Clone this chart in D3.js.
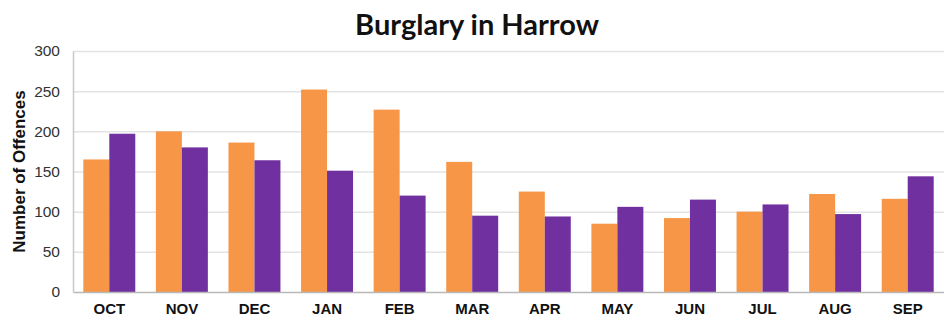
<!doctype html>
<html>
<head>
  <script src="https://cdnjs.cloudflare.com/ajax/libs/d3/7.8.5/d3.min.js"></script>
  <style>
    body { margin: 0; background: #fff; }
    svg { display: block; }
  </style>
</head>
<body>
  <svg width="944" height="317"></svg>
  <script>
    var months = ["OCT", "NOV", "DEC", "JAN", "FEB", "MAR", "APR", "MAY", "JUN", "JUL", "AUG", "SEP"];
    var seriesNames = ["previous", "current"];
    var orangeValues = [165, 200, 186, 252, 227, 162, 125, 85, 92, 100, 122, 116];
    var purpleValues = [197, 180, 164, 151, 120, 95, 94, 106, 115, 109, 97, 144];
    var yTicks = [0, 50, 100, 150, 200, 250, 300];
    var colors = ["#F79646", "#7030A0"];

    var svg = d3.select("svg");
    // note: "top" is a reserved window property, so use plotTop etc.
    var plotLeft = 73, plotRight = 944, plotTop = 51, plotBottom = 292;

    var x = d3.scaleBand().domain(months).range([plotLeft, plotRight]).paddingInner(0.284).paddingOuter(0.142);
    var xs = d3.scaleBand().domain(seriesNames).range([0, x.bandwidth()]);
    var y = d3.scaleLinear().domain([0, 300]).range([plotBottom, plotTop]);

    // gridlines
    svg.append("g")
      .selectAll("line")
      .data(yTicks.filter(t => t > 0))
      .enter()
      .append("line")
      .attr("x1", plotLeft).attr("x2", plotRight)
      .attr("y1", d => y(d) + 0.5).attr("y2", d => y(d) + 0.5)
      .attr("stroke", "#e3e3e3")
      .attr("stroke-width", 1.5);

    // bars
    var rows = months.map((m, i) => ({ month: m, vals: [orangeValues[i], purpleValues[i]] }));
    svg.append("g")
      .selectAll("g")
      .data(rows)
      .enter()
      .append("g")
      .attr("transform", d => "translate(" + x(d.month) + ",0)")
      .selectAll("rect")
      .data(d => d.vals.map((v, j) => ({ key: seriesNames[j], v: v, c: colors[j] })))
      .enter()
      .append("rect")
      .attr("x", d => xs(d.key))
      .attr("width", xs.bandwidth())
      .attr("y", d => y(d.v))
      .attr("height", d => y(0) - y(d.v))
      .attr("fill", d => d.c);

    // axes
    var yAxis = svg.append("g")
      .attr("transform", "translate(" + plotLeft + ",0)")
      .call(d3.axisLeft(y).tickValues(yTicks).tickSize(0).tickPadding(13));
    yAxis.select(".domain").attr("stroke", "#c8c8c8").attr("stroke-width", 1.5);
    yAxis.selectAll("text")
      .attr("font-family", "Liberation Sans, Arial, sans-serif")
      .attr("font-size", 15.5)
      .attr("fill", "#333");

    var xAxis = svg.append("g")
      .attr("transform", "translate(0," + plotBottom + ")")
      .call(d3.axisBottom(x).tickSize(0).tickPadding(11));
    xAxis.select(".domain").attr("stroke", "#b8b8b8").attr("stroke-width", 1.5);
    xAxis.selectAll("text")
      .attr("font-family", "Liberation Sans, Arial, sans-serif")
      .attr("font-size", 15)
      .attr("font-weight", "bold")
      .attr("fill", "#111");

    // titles
    svg.append("text")
      .attr("x", 477).attr("y", 35)
      .attr("text-anchor", "middle")
      .attr("font-family", "Lato, 'Open Sans', sans-serif")
      .attr("font-size", 29)
      .attr("font-weight", "bold")
      .attr("fill", "#111")
      .text("Burglary in Harrow");

    svg.append("text")
      .attr("transform", "translate(25," + ((plotTop + plotBottom) / 2) + ") rotate(-90)")
      .attr("text-anchor", "middle")
      .attr("font-family", "Liberation Sans, Arial, sans-serif")
      .attr("font-size", 17)
      .attr("font-weight", "bold")
      .attr("fill", "#111")
      .text("Number of Offences");
  </script>
</body>
</html>
